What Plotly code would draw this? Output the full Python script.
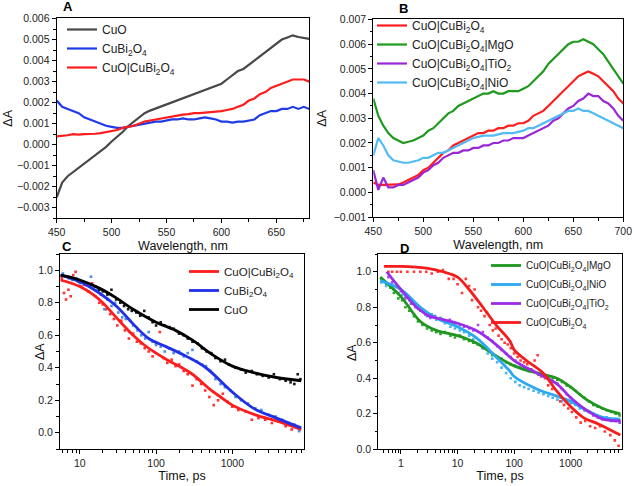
import plotly.graph_objects as go

FONT = "Liberation Sans, Arial, sans-serif"

# ---------------- Panel A : spectra ----------------
wl_A = list(range(450, 685, 5))
A_cuo = [-0.0025, -0.0018, -0.0015, -0.0013, -0.0011, -0.0009, -0.00072, -0.0005, -0.00032, -0.0001,
         0.00015, 0.00038, 0.0006, 0.00088, 0.0011, 0.00132, 0.0015, 0.00162, 0.00172, 0.00182,
         0.0019, 0.002, 0.00212, 0.0022, 0.0023, 0.0024, 0.0025, 0.0026, 0.0027, 0.00282,
         0.0029, 0.0031, 0.0033, 0.0035, 0.0036, 0.0038, 0.004, 0.0042, 0.0044, 0.0046,
         0.0048, 0.005, 0.0051, 0.0052, 0.00512, 0.00508, 0.00503]
A_cubi = [0.0021, 0.0018, 0.0017, 0.0016, 0.0015, 0.0013, 0.0012, 0.0011, 0.001, 0.0009,
          0.00085, 0.0008, 0.0008, 0.00085, 0.0009, 0.00095, 0.001, 0.00105, 0.0011, 0.0011,
          0.00115, 0.0012, 0.0012, 0.00125, 0.0012, 0.0012, 0.00125, 0.0013, 0.00125, 0.0012,
          0.0011, 0.0011, 0.00105, 0.0011, 0.0011, 0.00115, 0.0012, 0.0014, 0.0015, 0.0016,
          0.0016, 0.0017, 0.0017, 0.0018, 0.0017, 0.0018, 0.0017]
A_het = [0.0004, 0.00042, 0.00045, 0.0005, 0.00048, 0.0005, 0.0005, 0.00052, 0.00055, 0.0006,
         0.00065, 0.0007, 0.0008, 0.00085, 0.0009, 0.001, 0.0011, 0.00115, 0.0012, 0.00125,
         0.0013, 0.00135, 0.0014, 0.00143, 0.00145, 0.0015, 0.0015, 0.00152, 0.00155, 0.00157,
         0.0016, 0.00165, 0.0017, 0.0018, 0.0019, 0.0021, 0.0022, 0.0024, 0.0025, 0.0027,
         0.0028, 0.0029, 0.003, 0.0031, 0.0031, 0.0031, 0.003]

# ---------------- Panel B : spectra ----------------
wl_B = list(range(450, 705, 5))
B_het = [0.0004, 0.0003, 0.0003, 0.0003, 0.0003, 0.00032, 0.0004, 0.0005, 0.0006, 0.0007,
         0.0009, 0.001, 0.0012, 0.0014, 0.0016, 0.0017, 0.0019, 0.002, 0.0021, 0.0022,
         0.0023, 0.0024, 0.0024, 0.0025, 0.0025, 0.0026, 0.0026, 0.0027, 0.0027, 0.0028,
         0.0028, 0.0029, 0.0031, 0.0032, 0.0033, 0.0035, 0.0037, 0.0039, 0.0041, 0.0043,
         0.0045, 0.0047, 0.0048, 0.0049, 0.0048, 0.0047, 0.0045, 0.0043, 0.0041, 0.0038, 0.0036]
B_mgo = [0.0038, 0.0031, 0.0027, 0.0024, 0.0022, 0.0021, 0.002, 0.00205, 0.0021, 0.0022,
         0.0023, 0.0025, 0.0026, 0.0028, 0.003, 0.0032, 0.0033, 0.0035, 0.0036, 0.0037,
         0.0038, 0.0039, 0.004, 0.004, 0.0041, 0.004, 0.004, 0.0041, 0.0041, 0.0041,
         0.0042, 0.0043, 0.0045, 0.0047, 0.0049, 0.0052, 0.0054, 0.0056, 0.0058, 0.006,
         0.0061, 0.0061, 0.0062, 0.0061, 0.006, 0.0058, 0.0056, 0.0053, 0.005, 0.0047, 0.0044]
B_tio2 = [0.0009, 0.0001, 0.0006, 0.0002, 0.0002, 0.0003, 0.0003, 0.0004, 0.0005, 0.0006,
          0.0008, 0.0009, 0.0011, 0.0012, 0.0014, 0.0015, 0.0016, 0.0016, 0.0017, 0.0017,
          0.0018, 0.0018, 0.0019, 0.0019, 0.002, 0.002, 0.0021, 0.0021, 0.0022, 0.0022,
          0.0022, 0.0023, 0.0024, 0.0025, 0.0026, 0.0027, 0.0029, 0.003, 0.0032, 0.0034,
          0.0035, 0.0037, 0.0038, 0.004, 0.0039, 0.0039, 0.0037, 0.0036, 0.0034, 0.0031, 0.0029]
B_nio = [0.0015, 0.0022, 0.0019, 0.0015, 0.0013, 0.00125, 0.0012, 0.0012, 0.00125, 0.0013,
         0.0014, 0.0014, 0.0015, 0.0016, 0.0016, 0.0017, 0.0018, 0.0019, 0.002, 0.0021,
         0.0022, 0.00225, 0.0023, 0.0023, 0.0023, 0.00235, 0.0024, 0.0024, 0.0024, 0.00245,
         0.0025, 0.0026, 0.0026, 0.0027, 0.0028, 0.0029, 0.003, 0.0031, 0.0032, 0.0033,
         0.0033, 0.0034, 0.0033, 0.0033, 0.0032, 0.0031, 0.003, 0.0029, 0.0028, 0.0027, 0.0026]

# ---------------- Panel C : kinetics ----------------
C_het_t = [5.8, 6.2, 6.6, 7.1, 7.6, 8.2, 8.8, 9.5, 10.5, 11.5, 13, 14.5, 16, 18, 20, 22, 25, 28, 31, 35,
           39, 44, 50, 56, 63, 71, 80, 90, 100, 112, 125, 140, 160, 180, 200, 230, 260, 300, 340, 390,
           440, 500, 570, 650, 750, 870, 1000, 1200, 1500, 1800, 2200, 2700, 3300, 4000, 5000, 6000, 7200]
C_het_y = [0.95, 0.86, 0.82, 0.88, 0.84, 0.97, 0.99, 0.93, 0.90, 0.91, 0.87, 0.92, 0.84, 0.80, 0.79, 0.76,
           0.73, 0.70, 0.66, 0.69, 0.63, 0.58, 0.61, 0.56, 0.55, 0.52, 0.50, 0.47, 0.55, 0.62, 0.46, 0.43,
           0.45, 0.41, 0.42, 0.38, 0.36, 0.29, 0.33, 0.30, 0.26, 0.22, 0.17, 0.20, 0.24, 0.19, 0.16, 0.14,
           0.13, 0.08, 0.09, 0.08, 0.06, 0.07, 0.04, 0.02, 0.03]
C_het_fit_t = [5.6, 10, 15, 20, 30, 50, 70, 100, 150, 200, 300, 500, 700, 1000, 2000, 4000, 8000]
C_het_fit_y = [0.94, 0.90, 0.85, 0.80, 0.71, 0.60, 0.54, 0.49, 0.44, 0.41, 0.36, 0.27, 0.22, 0.17, 0.11, 0.07, 0.02]

C_cubi_t = [6, 6.5, 7.2, 8, 9, 10, 11, 12.5, 14, 15.5, 17, 19, 21, 23, 26, 29, 32, 36, 40, 45, 50, 57, 64,
            72, 80, 90, 100, 115, 130, 150, 170, 200, 230, 260, 300, 340, 400, 450, 520, 600, 700, 800,
            950, 1100, 1300, 1600, 2000, 2400, 3000, 3700, 4500, 5500, 6500, 7500]
C_cubi_y = [0.98, 0.96, 0.95, 0.94, 0.95, 0.92, 0.93, 0.91, 0.96, 0.90, 0.88, 0.85, 0.76, 0.82, 0.78, 0.80,
            0.74, 0.71, 0.70, 0.62, 0.66, 0.63, 0.60, 0.58, 0.62, 0.56, 0.54, 0.53, 0.50, 0.52, 0.49, 0.50,
            0.47, 0.49, 0.51, 0.44, 0.42, 0.41, 0.38, 0.33, 0.30, 0.28, 0.26, 0.22, 0.20, 0.18, 0.15, 0.14,
            0.11, 0.10, 0.08, 0.06, 0.05, 0.01]
C_cubi_fit_t = [5.6, 10, 18, 30, 50, 80, 135, 250, 450, 1000, 1900, 3800, 8000]
C_cubi_fit_y = [0.97, 0.93, 0.86, 0.78, 0.67, 0.58, 0.53, 0.47, 0.40, 0.25, 0.15, 0.09, 0.03]

C_cuo_t = [6, 7, 8, 9, 10, 12, 14, 16, 18, 20, 23, 26, 30, 34, 38, 43, 48, 55, 62, 70, 80, 90, 100, 115,
           130, 150, 170, 200, 230, 260, 300, 350, 400, 460, 530, 600, 700, 800, 900, 1100, 1300, 1500,
           1800, 2100, 2500, 3000, 3500, 4200, 5000, 5800, 6500, 7200, 7800]
C_cuo_y = [0.97, 0.96, 0.95, 0.94, 0.93, 0.92, 0.91, 0.90, 0.88, 0.87, 0.85, 0.88, 0.82, 0.80, 0.78, 0.76,
           0.75, 0.74, 0.72, 0.75, 0.71, 0.68, 0.66, 0.68, 0.66, 0.65, 0.64, 0.61, 0.60, 0.58, 0.56, 0.55,
           0.52, 0.50, 0.49, 0.46, 0.44, 0.45, 0.42, 0.40, 0.39, 0.37, 0.38, 0.36, 0.35, 0.34, 0.36, 0.33,
           0.32, 0.31, 0.30, 0.36, 0.33]
C_cuo_fit_t = [5.6, 10, 18, 30, 50, 100, 180, 300, 550, 1000, 1900, 3800, 8000]
C_cuo_fit_y = [0.97, 0.94, 0.89, 0.83, 0.76, 0.68, 0.63, 0.57, 0.48, 0.41, 0.37, 0.34, 0.32]

# ---------------- Panel D : kinetics ----------------
D_t = [0.45, 0.55, 0.65, 0.75, 0.9, 1.05, 1.2, 1.4, 1.7, 2.0, 2.4, 2.9, 3.5, 4.2, 5, 6, 7.5, 9, 11, 13,
       16, 19, 23, 28, 34, 41, 50, 60, 72, 87, 105, 125, 150, 180, 220, 270, 330, 400, 480, 580, 700,
       850, 1000, 1200, 1450, 1750, 2100, 2500, 3000, 3600, 4300, 5200, 6200, 7300]
D_mgo_y = [0.96, 0.93, 0.91, 0.88, 0.85, 0.84, 0.80, 0.78, 0.75, 0.72, 0.70, 0.68, 0.67, 0.66, 0.65, 0.66,
           0.64, 0.63, 0.64, 0.62, 0.61, 0.60, 0.59, 0.57, 0.56, 0.53, 0.52, 0.51, 0.49, 0.48, 0.47, 0.46,
           0.45, 0.44, 0.44, 0.42, 0.42, 0.41, 0.40, 0.39, 0.38, 0.36, 0.35, 0.33, 0.31, 0.29, 0.27, 0.25,
           0.24, 0.23, 0.22, 0.21, 0.20, 0.19]
D_nio_y = [0.94, 0.92, 0.93, 0.90, 0.88, 0.87, 0.86, 0.84, 0.82, 0.79, 0.78, 0.75, 0.76, 0.73, 0.74, 0.71,
           0.69, 0.68, 0.67, 0.66, 0.64, 0.62, 0.59, 0.57, 0.54, 0.51, 0.49, 0.46, 0.43, 0.40, 0.38, 0.36,
           0.35, 0.34, 0.33, 0.32, 0.31, 0.30, 0.29, 0.28, 0.27, 0.27, 0.26, 0.25, 0.23, 0.22, 0.21, 0.20,
           0.19, 0.18, 0.18, 0.17, 0.17, 0.16]
D_tio2_t = [0.6, 0.7, 0.85, 1.0, 1.2, 1.5, 1.8, 2.2, 2.7, 3.3, 4, 5, 6, 7.3, 9, 11, 13, 16, 19, 23, 28,
            34, 41, 50, 60, 72, 87, 105, 125, 150, 180, 220, 270, 330, 400, 480, 580, 700, 850, 1000,
            1200, 1450, 1750, 2100, 2500, 3000, 3600, 4300, 5200, 6200, 7300]
D_tio2_y = [0.97, 0.94, 0.92, 0.89, 0.85, 0.82, 0.80, 0.78, 0.76, 0.74, 0.75, 0.73, 0.72, 0.73, 0.71, 0.70,
            0.69, 0.68, 0.67, 0.70, 0.66, 0.63, 0.61, 0.58, 0.56, 0.54, 0.52, 0.50, 0.48, 0.46, 0.45, 0.44,
            0.43, 0.42, 0.40, 0.38, 0.37, 0.34, 0.31, 0.29, 0.26, 0.24, 0.22, 0.21, 0.19, 0.18, 0.17, 0.17,
            0.16, 0.16, 0.15]
D_het_t = [0.6, 0.7, 0.85, 1.0, 1.3, 1.7, 2.2, 2.8, 3.5, 4.5, 5.5, 7, 8.5, 10, 12, 14, 16, 18, 20, 23,
           26, 30, 33, 37, 42, 47, 53, 60, 68, 77, 87, 100, 115, 130, 150, 170, 200, 230, 260, 300, 350,
           400, 470, 550, 650, 760, 900, 1050, 1250, 1500, 1800, 2200, 2700, 3300, 4000, 5000, 6000, 7000]
D_het_y = [1.0, 1.0, 1.0, 1.0, 1.0, 1.0, 1.0, 1.0, 0.99, 1.0, 1.01, 0.96, 0.96, 0.93, 0.88, 0.96, 0.92,
           0.84, 0.90, 0.80, 0.78, 0.75, 0.77, 0.70, 0.67, 0.68, 0.64, 0.62, 0.60, 0.59, 0.57, 0.54, 0.52,
           0.50, 0.49, 0.48, 0.45, 0.50, 0.53, 0.41, 0.40, 0.36, 0.34, 0.30, 0.27, 0.25, 0.23, 0.21, 0.18,
           0.15, 0.16, 0.13, 0.12, 0.13, 0.10, 0.08, 0.05, 0.02]

D_mgo_fit_t = [0.43, 1, 2.2, 4.2, 10, 21, 46, 100, 250, 570, 1000, 1900, 3700, 7500]
D_mgo_fit_y = [0.97, 0.86, 0.72, 0.67, 0.64, 0.60, 0.53, 0.47, 0.43, 0.40, 0.35, 0.28, 0.23, 0.20]
D_nio_fit_t = [0.43, 1, 2.2, 4.2, 10, 21, 48, 84, 100, 250, 560, 1000, 1900, 3700, 7500]
D_nio_fit_y = [0.95, 0.90, 0.80, 0.74, 0.69, 0.63, 0.52, 0.44, 0.41, 0.34, 0.30, 0.27, 0.22, 0.18, 0.17]
D_tio2_fit_t = [0.56, 1, 1.9, 3.2, 5.6, 10, 21, 48, 100, 250, 560, 1000, 1900, 3700, 7500]
D_tio2_fit_y = [1.0, 0.90, 0.80, 0.75, 0.73, 0.71, 0.67, 0.59, 0.50, 0.43, 0.37, 0.29, 0.22, 0.17, 0.16]
D_het_fit_t = [0.5, 1, 2.8, 5.5, 10, 16, 28, 48, 84, 100, 165, 324, 558, 1000, 1650, 3200, 7500]
D_het_fit_y = [1.03, 1.03, 1.02, 1.0, 0.97, 0.90, 0.80, 0.70, 0.61, 0.56, 0.50, 0.43, 0.33, 0.24, 0.18, 0.14, 0.08]

HET = "CuO|CuBi<sub>2</sub>O<sub>4</sub>"
CUBI = "CuBi<sub>2</sub>O<sub>4</sub>"

fig = go.Figure()

def line(x, y, name, color, ax, leg, width=2.2, show=True, shape="linear"):
    fig.add_trace(go.Scatter(x=x, y=y, mode="lines", name=name, showlegend=show,
                             line=dict(color=color, width=width, shape=shape, smoothing=1.0),
                             xaxis="x" + ax, yaxis="y" + ax, legend=leg))

def dots(x, y, color, ax):
    fig.add_trace(go.Scatter(x=x, y=y, mode="markers", showlegend=False,
                             marker=dict(color=color, size=2.6, symbol="square"),
                             xaxis="x" + ax, yaxis="y" + ax))

# A
line(wl_A, A_cuo, "CuO", "#484848", "", "legend")
line(wl_A, A_cubi, CUBI, "#1f3be8", "", "legend")
line(wl_A, A_het, HET, "#ff1c1c", "", "legend")
# B
line(wl_B, B_het, HET, "#ff1c1c", "2", "legend2")
line(wl_B, B_mgo, "CuO|CuBi<sub>2</sub>O<sub>4</sub>|MgO", "#1f9a1f", "2", "legend2")
line(wl_B, B_tio2, "CuO|CuBi<sub>2</sub>O<sub>4</sub>|TiO<sub>2</sub>", "#9a27d6", "2", "legend2")
line(wl_B, B_nio, "CuO|CuBi<sub>2</sub>O<sub>4</sub>|NiO", "#52bbf5", "2", "legend2")
# C
dots(C_het_t, C_het_y, "#ff3030", "3")
dots(C_cubi_t, C_cubi_y, "#4a8ee8", "3")
dots(C_cuo_t, C_cuo_y, "#1a1a1a", "3")
line(C_het_fit_t, C_het_fit_y, HET, "#ff1c1c", "3", "legend3", width=2.8, shape="spline")
line(C_cubi_fit_t, C_cubi_fit_y, CUBI, "#1f30e8", "3", "legend3", width=2.8, shape="spline")
line(C_cuo_fit_t, C_cuo_fit_y, "CuO", "#000000", "3", "legend3", width=2.8, shape="spline")
# D
dots(D_t, D_mgo_y, "#2ea82e", "4")
dots(D_t, D_nio_y, "#4ab4f2", "4")
dots(D_tio2_t, D_tio2_y, "#a450ee", "4")
dots(D_het_t, D_het_y, "#ff3a3a", "4")
line(D_mgo_fit_t, D_mgo_fit_y, "CuO|CuBi<sub>2</sub>O<sub>4</sub>|MgO", "#1f961f", "4", "legend4", width=2.8, shape="spline")
line(D_nio_fit_t, D_nio_fit_y, "CuO|CuBi<sub>2</sub>O<sub>4</sub>|NiO", "#2aa8f0", "4", "legend4", width=2.8, shape="spline")
line(D_tio2_fit_t, D_tio2_fit_y, "CuO|CuBi<sub>2</sub>O<sub>4</sub>|TiO<sub>2</sub>", "#9a2ee8", "4", "legend4", width=2.8, shape="spline")
line(D_het_fit_t, D_het_fit_y, HET, "#f51c1c", "4", "legend4", width=2.8, shape="spline")

W, H = 634, 486
def px(x0, x1):
    return [x0 / W, x1 / W]
def py(top, bottom):
    return [1 - bottom / H, 1 - top / H]

tickfont = dict(family=FONT, size=10.5, color="#222")
titlefont = dict(family=FONT, size=12.5, color="#111")
base = dict(showline=True, linecolor="black", linewidth=1.2, mirror=True, ticks="outside",
            ticklen=4, tickwidth=1, tickcolor="black", showgrid=False, zeroline=False,
            tickfont=tickfont, ticklabeloverflow="allow", automargin=False)

def minor(d):
    return dict(ticks="outside", ticklen=2.5, tickwidth=1, tickcolor="black", showgrid=False, dtick=d)

log_minor_C = [6, 7, 8, 9, 20, 30, 40, 50, 60, 70, 80, 90, 200, 300, 400, 500, 600, 700, 800, 900,
               2000, 3000, 4000, 5000, 6000, 7000, 8000]
log_minor_D = [0.5, 0.6, 0.7, 0.8, 0.9, 2, 3, 4, 5, 6, 7, 8, 9, 20, 30, 40, 50, 60, 70, 80, 90,
               200, 300, 400, 500, 600, 700, 800, 900, 2000, 3000, 4000, 5000, 6000, 7000]

def legend_at(x, top, size):
    return dict(x=x / W, y=1 - top / H, xanchor="left", yanchor="top", bgcolor="rgba(0,0,0,0)",
                font=dict(family=FONT, size=size, color="#222"), tracegroupgap=0, itemwidth=30)

fig.update_layout(
    template="none",
    width=W, height=H, margin=dict(l=0, r=0, t=0, b=0, autoexpand=False),
    paper_bgcolor="white", plot_bgcolor="white",
    font=dict(family=FONT, color="#222"),
    xaxis=dict(base, domain=px(56.7, 309.3), range=[450, 680], tick0=450, dtick=50, minor=minor(25),
               anchor="y", title=dict(text="Wavelength, nm", font=titlefont, standoff=4)),
    yaxis=dict(base, domain=py(18.3, 218.3), range=[-0.0035, 0.00601], dtick=0.001, tick0=0,
               tickformat=".3f", minor=minor(0.0005), anchor="x",
               title=dict(text="ΔA", font=titlefont, standoff=1)),
    xaxis2=dict(base, domain=px(373.3, 623.3), range=[450, 700], tick0=450, dtick=50, minor=minor(25),
                anchor="y2", title=dict(text="Wavelength, nm", font=titlefont, standoff=4)),
    yaxis2=dict(base, domain=py(19.3, 217.3), range=[-0.00101, 0.00701], dtick=0.001, tick0=0,
                tickformat=".3f", minor=minor(0.0005), anchor="x2",
                title=dict(text="ΔA", font=titlefont, standoff=4)),
    xaxis3=dict(base, type="log", domain=px(60, 304), range=[0.7404, 3.9395],
                tickmode="array", tickvals=[10, 100, 1000], ticktext=["10", "100", "1000"],
                minor=dict(ticks="outside", ticklen=2.5, tickcolor="black", tickvals=log_minor_C, showgrid=False),
                anchor="y3", title=dict(text="Time, ps", font=titlefont, standoff=0)),
    yaxis3=dict(base, domain=py(254, 449), range=[-0.1, 1.1], dtick=0.2, tick0=0, tickformat=".1f",
                minor=minor(0.1), anchor="x3"),
    xaxis4=dict(base, type="log", domain=px(378.3, 621.7), range=[-0.40, 3.90],
                tickmode="array", tickvals=[1, 10, 100, 1000], ticktext=["1", "10", "100", "1000"],
                minor=dict(ticks="outside", ticklen=2.5, tickcolor="black", tickvals=log_minor_D, showgrid=False),
                anchor="y4", title=dict(text="Time, ps", font=titlefont, standoff=0)),
    yaxis4=dict(base, domain=py(254, 449.3), range=[0, 1.1], dtick=0.2, tick0=0, tickformat=".1f",
                minor=minor(0.1), anchor="x4"),
    legend=legend_at(62, 15, 12),
    legend2=legend_at(372, 11, 12),
    legend3=legend_at(184, 257, 11.5),
    legend4=legend_at(486, 251, 10),
)

# y-axis titles of the lower panels sit close to their tick labels
for x, y in [(40, 352), (352, 353)]:
    fig.add_annotation(text="ΔA", x=x / W, y=1 - y / H, xref="paper", yref="paper", showarrow=False,
                       textangle=-90, xanchor="center", yanchor="middle", font=titlefont)

for txt, x, y in [("A", 68, 7), ("B", 403, 8), ("C", 67, 247), ("D", 404, 248)]:
    fig.add_annotation(text="<b>" + txt + "</b>", x=x / W, y=1 - y / H, xref="paper", yref="paper",
                       showarrow=False, xanchor="center", yanchor="middle",
                       font=dict(family=FONT, size=13, color="black"))

fig.write_html("out.html", config={"displayModeBar": False},
               post_script="document.body.style.margin='0';document.body.style.overflow='hidden';")
